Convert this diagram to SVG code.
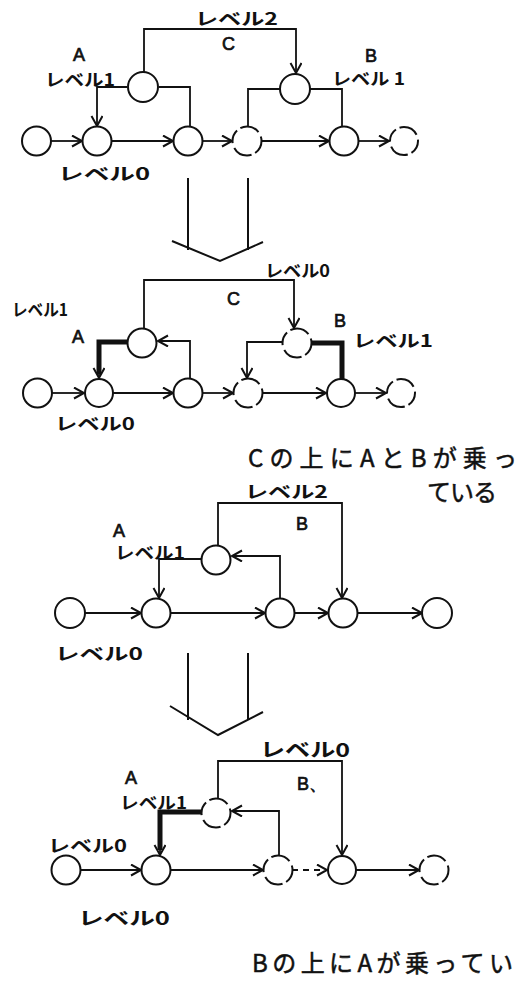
<svg xmlns="http://www.w3.org/2000/svg" width="521" height="982" viewBox="0 0 521 982">
  <style>
    .bg { fill: #ffffff; }
    .node { fill: #ffffff; stroke: #111111; stroke-width: 2; }
    .broken { stroke-dasharray: 14 4 20 5; }
    .edge { fill: none; stroke: #111111; stroke-width: 1.8; }
    .thick { fill: none; stroke: #111111; stroke-width: 5; }
    .dash { stroke-dasharray: 6 5; }
    .big { fill: none; stroke: #111111; stroke-width: 2; }
    text { font-family: "Noto Sans CJK JP", "Noto Sans", sans-serif; fill: #111111; }
    .lbl { font-size: 17px; font-weight: bold; }
    .let { font-family: "Liberation Sans", Arial, sans-serif; font-size: 18px; stroke: #111111; stroke-width: 0.7; }
    .note { font-size: 24px; stroke: #111111; stroke-width: 0.5; }
  </style>
  <defs>
    <marker id="arr" markerUnits="userSpaceOnUse" markerWidth="14" markerHeight="14" refX="11" refY="6" orient="auto">
      <path d="M1,0.5 L11,6 L1,11.5" fill="none" stroke="#111111" stroke-width="2"/>
    </marker>
  </defs>
  <rect class="bg" x="0" y="0" width="521" height="982"/>

  <!-- Panel 1: original network -->
  <g id="connectors-1">
    <line class="edge" x1="51" y1="141" x2="82" y2="141" marker-end="url(#arr)"/>
    <line class="edge" x1="112" y1="141" x2="173" y2="141" marker-end="url(#arr)"/>
    <line class="edge" x1="202" y1="141" x2="232" y2="141" marker-end="url(#arr)"/>
    <line class="edge" x1="262" y1="141" x2="329" y2="141" marker-end="url(#arr)"/>
    <line class="edge" x1="359" y1="141" x2="389" y2="141" marker-end="url(#arr)"/>
    <path class="edge" d="M127,87 H97 V126" marker-end="url(#arr)"/>
    <path class="edge" d="M159,87 H190 V127"/>
    <path class="edge" d="M144,72 V29 H296 V73" marker-end="url(#arr)"/>
    <path class="edge" d="M280,89 H248 V127"/>
    <path class="edge" d="M310,89 H342 V127"/>
  </g>
  <g id="p1-a"><circle class="node" cx="143" cy="87" r="15"/></g>
  <g id="p1-b"><circle class="node" cx="295" cy="89" r="15"/></g>
  <g id="p1-n1"><circle class="node" cx="36.5" cy="141" r="14.5"/></g>
  <g id="p1-n2"><circle class="node" cx="97" cy="141" r="14.5"/></g>
  <g id="p1-n3"><circle class="node" cx="188" cy="141" r="14.5"/></g>
  <g id="p1-n4"><circle class="node broken" cx="247" cy="141" r="14.5"/></g>
  <g id="p1-n5"><circle class="node" cx="344" cy="141" r="14.5"/></g>
  <g id="p1-n6"><circle class="node broken" cx="404" cy="141" r="14"/></g>
  <g id="p1-labels">
    <text class="lbl" x="195" y="25" textLength="83" lengthAdjust="spacingAndGlyphs">レベル2</text>
    <text class="let" x="222" y="50">C</text>
    <text class="let" x="73" y="61">A</text>
    <text class="lbl" x="45" y="86" textLength="70" lengthAdjust="spacingAndGlyphs">レベル1</text>
    <text class="let" x="365" y="62">B</text>
    <text class="lbl" x="332" y="85" textLength="73" lengthAdjust="spacingAndGlyphs">レベル 1</text>
    <text class="lbl" x="58" y="180" textLength="92" lengthAdjust="spacingAndGlyphs">レベル0</text>
  </g>

  <!-- transition arrow 1 -->
  <g id="step-arrow-1">
    <path class="big" d="M188,178 V250 M248,178 V250 M172,241 L220,261 L263,242"/>
  </g>

  <!-- Panel 2: A and B raised onto C -->
  <g id="connectors-2">
    <line class="edge" x1="52" y1="393" x2="84" y2="393" marker-end="url(#arr)"/>
    <line class="edge" x1="113" y1="393" x2="173" y2="393" marker-end="url(#arr)"/>
    <line class="edge" x1="203" y1="393" x2="233" y2="393" marker-end="url(#arr)"/>
    <line class="edge" x1="263" y1="393" x2="326" y2="393" marker-end="url(#arr)"/>
    <line class="edge" x1="355" y1="393" x2="386" y2="393" marker-end="url(#arr)"/>
    <path class="thick" d="M128,342 H99 V374"/>
    <path class="edge" d="M99,372 V378" marker-end="url(#arr)"/>
    <path class="edge" d="M190,379 V341 H158" marker-end="url(#arr)"/>
    <path class="edge" d="M144,329 V280 H294 V328" marker-end="url(#arr)"/>
    <path class="edge" d="M282,342 H247 V378" marker-end="url(#arr)"/>
    <path class="thick" d="M312,343 H342 V379"/>
  </g>
  <g id="p2-a"><circle class="node" cx="142" cy="343" r="14.5"/></g>
  <g id="p2-b"><circle class="node broken" cx="297" cy="343" r="14.5"/></g>
  <g id="p2-n1"><circle class="node" cx="37.5" cy="393" r="14.5"/></g>
  <g id="p2-n2"><circle class="node" cx="99" cy="393" r="14"/></g>
  <g id="p2-n3"><circle class="node" cx="188" cy="393" r="14.5"/></g>
  <g id="p2-n4"><circle class="node broken" cx="248" cy="393" r="14.5"/></g>
  <g id="p2-n5"><circle class="node" cx="341" cy="393" r="14"/></g>
  <g id="p2-n6"><circle class="node broken" cx="401" cy="393" r="14"/></g>
  <g id="p2-labels">
    <text class="lbl" x="265" y="277" textLength="65" lengthAdjust="spacingAndGlyphs">レベル0</text>
    <text class="let" x="227" y="305">C</text>
    <text class="lbl" x="12" y="316" textLength="56" lengthAdjust="spacingAndGlyphs">レベル1</text>
    <text class="let" x="72" y="343">A</text>
    <text class="let" x="334" y="327">B</text>
    <text class="lbl" x="353" y="347" textLength="80" lengthAdjust="spacingAndGlyphs">レベル1</text>
    <text class="lbl" x="55" y="430" textLength="80" lengthAdjust="spacingAndGlyphs">レベル0</text>
    <text class="note" x="248" y="467" textLength="269">Cの上にAとBが乗っ</text>
    <text class="note" x="427" y="501" textLength="70">ている</text>
  </g>

  <!-- Panel 3: A on B -->
  <g id="connectors-3">
    <line class="edge" x1="85" y1="613" x2="141" y2="613" marker-end="url(#arr)"/>
    <line class="edge" x1="171" y1="613" x2="265" y2="613" marker-end="url(#arr)"/>
    <line class="edge" x1="295" y1="613" x2="328" y2="613" marker-end="url(#arr)"/>
    <line class="edge" x1="357" y1="613" x2="422" y2="613" marker-end="url(#arr)"/>
    <path class="edge" d="M202,559 H159 V598" marker-end="url(#arr)"/>
    <path class="edge" d="M280,598 V556 H232" marker-end="url(#arr)"/>
    <path class="edge" d="M218,545 V503 H342 V598" marker-end="url(#arr)"/>
  </g>
  <g id="p3-a"><circle class="node" cx="216" cy="560" r="14.5"/></g>
  <g id="p3-n1"><circle class="node" cx="70" cy="613" r="15"/></g>
  <g id="p3-n2"><circle class="node" cx="156" cy="613" r="14.5"/></g>
  <g id="p3-n3"><circle class="node" cx="280" cy="613" r="14.5"/></g>
  <g id="p3-n4"><circle class="node" cx="343" cy="613" r="14.5"/></g>
  <g id="p3-n5"><circle class="node" cx="437" cy="613" r="15"/></g>
  <g id="p3-labels">
    <text class="lbl" x="245" y="498" textLength="83" lengthAdjust="spacingAndGlyphs">レベル2</text>
    <text class="let" x="296" y="530">B</text>
    <text class="let" x="113" y="537">A</text>
    <text class="lbl" x="115" y="559" textLength="70" lengthAdjust="spacingAndGlyphs">レベル1</text>
    <text class="lbl" x="55" y="660" textLength="88" lengthAdjust="spacingAndGlyphs">レベル0</text>
  </g>

  <!-- transition arrow 2 -->
  <g id="step-arrow-2">
    <path class="big" d="M188,653 V720 M248,653 V720 M170,706 L218,735 L263,712"/>
  </g>

  <!-- Panel 4: A raised onto B -->
  <g id="connectors-4">
    <line class="edge" x1="80" y1="870" x2="141" y2="870" marker-end="url(#arr)"/>
    <line class="edge" x1="171" y1="870" x2="263" y2="870" marker-end="url(#arr)"/>
    <line class="edge dash" x1="292" y1="870" x2="327" y2="870" marker-end="url(#arr)"/>
    <line class="edge" x1="356" y1="870" x2="419" y2="870" marker-end="url(#arr)"/>
    <path class="thick" d="M201,812 H160 V850"/>
    <path class="edge" d="M160,848 V855" marker-end="url(#arr)"/>
    <path class="edge" d="M279,855 V811 H232" marker-end="url(#arr)"/>
    <path class="edge" d="M218,798 V761 H342 V855" marker-end="url(#arr)"/>
  </g>
  <g id="p4-a"><circle class="node broken" cx="216" cy="813" r="14.5"/></g>
  <g id="p4-n1"><circle class="node" cx="66" cy="870" r="14.5"/></g>
  <g id="p4-n2"><circle class="node" cx="156" cy="870" r="14.5"/></g>
  <g id="p4-n3"><circle class="node broken" cx="278" cy="870" r="14.5"/></g>
  <g id="p4-n4"><circle class="node" cx="342" cy="870" r="14"/></g>
  <g id="p4-n5"><circle class="node broken" cx="434" cy="870" r="14.5"/></g>
  <g id="p4-labels">
    <text class="lbl" x="260" y="757" textLength="90" lengthAdjust="spacingAndGlyphs" style="font-size:19px">レベル0</text>
    <text class="let" x="297" y="790">B、</text>
    <text class="let" x="125" y="784">A</text>
    <text class="lbl" x="120" y="809" textLength="67" lengthAdjust="spacingAndGlyphs">レベル1</text>
    <text class="lbl" x="48" y="852" textLength="79" lengthAdjust="spacingAndGlyphs">レベル0</text>
    <text class="lbl" x="78" y="925" textLength="92" lengthAdjust="spacingAndGlyphs" style="font-size:18px">レベル0</text>
    <text class="note" x="252" y="972" textLength="261">Bの上にAが乗ってい</text>
  </g>
</svg>
